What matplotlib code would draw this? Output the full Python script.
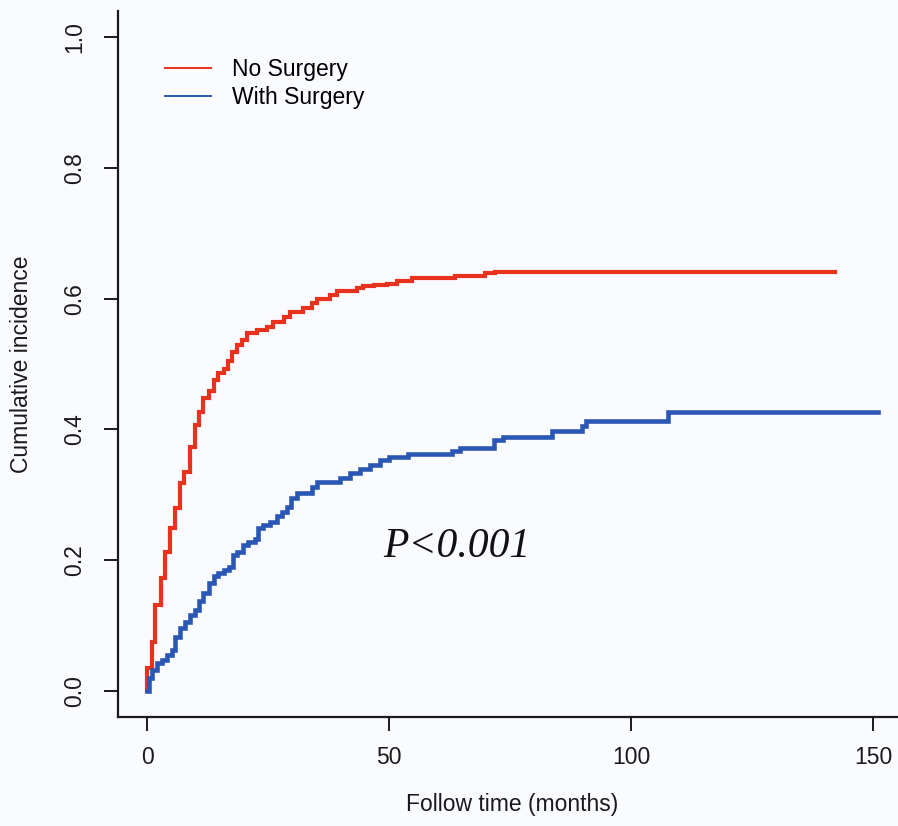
import matplotlib
matplotlib.use("Agg")
import matplotlib.pyplot as plt

# ---- data ----
no_surg_t = [0, 0, 0.97, 1.65, 2.8, 3.7, 4.75, 5.8, 6.8, 7.7, 8.9, 9.9, 10.7, 11.6, 12.7,
             13.7, 14.7, 15.8, 16.6, 17.5, 18.5, 19.6, 20.6, 22.7, 24.7, 26.1, 28.2,
             29.5, 32.3, 34.0, 35.0, 37.8, 39.2, 43.3, 44.7, 46.8, 49.5, 51.6, 54.7,
             63.6, 69.8, 71.9, 142.1]
no_surg_v = [0, 0.035, 0.075, 0.131, 0.172, 0.213, 0.249, 0.28, 0.318, 0.335, 0.373,
             0.407, 0.427, 0.448, 0.458, 0.476, 0.486, 0.493, 0.504, 0.519, 0.529,
             0.537, 0.547, 0.552, 0.557, 0.565, 0.572, 0.58, 0.585, 0.593, 0.6, 0.606,
             0.611, 0.616, 0.619, 0.621, 0.623, 0.627, 0.632, 0.634, 0.6385, 0.641,
             0.641]

with_surg_t = [0, 0.3, 0.97, 2.0, 3.0, 4.1, 5.1, 5.8, 6.8, 7.85, 8.9, 9.9, 10.7, 11.6,
               12.7, 13.7, 14.7, 15.8, 16.8, 17.7, 18.5, 19.8, 20.9, 22.3, 23.0, 24.0,
               25.4, 26.8, 27.8, 28.9, 29.8, 30.9, 34.0, 35.1, 39.9, 41.9, 44.0, 46.1,
               48.1, 49.9, 54.0, 63.0, 64.7, 71.7, 73.6, 83.7, 89.8, 90.6, 107.7, 151.1]
with_surg_v = [0, 0.019, 0.032, 0.042, 0.047, 0.055, 0.063, 0.083, 0.096, 0.106, 0.116,
               0.124, 0.137, 0.149, 0.165, 0.175, 0.18, 0.185, 0.19, 0.208, 0.213,
               0.223, 0.228, 0.233, 0.249, 0.254, 0.259, 0.267, 0.274, 0.282, 0.295,
               0.302, 0.312, 0.32, 0.325, 0.333, 0.34, 0.346, 0.353, 0.358, 0.362,
               0.367, 0.372, 0.383, 0.389, 0.397, 0.405, 0.413, 0.427, 0.427]

x_ticks = [0, 50, 100, 150]
y_ticks = [0.0, 0.2, 0.4, 0.6, 0.8, 1.0]
y_tick_labels = ["0.0", "0.2", "0.4", "0.6", "0.8", "1.0"]
series_labels = ["No Surgery", "With Surgery"]

RED = "#E8321E"
BLUE = "#2A56B4"
BG = "#FAFBFE"

plt.rcParams['font.family'] = ['Liberation Sans', 'DejaVu Sans']

W, H = 898, 826
fig = plt.figure(figsize=(W / 100, H / 100), dpi=100, facecolor=BG)

xlim = (-6.04, 157.04)
ylim = (-0.04, 1.04)
left_px, right_px, top_px, bottom_px = 118, 907, 11, 717
ax = fig.add_axes([left_px / W, 1 - bottom_px / H,
                   (right_px - left_px) / W, (bottom_px - top_px) / H])
ax.set_facecolor(BG)
ax.set_xlim(*xlim)
ax.set_ylim(*ylim)

ax.step(no_surg_t, no_surg_v, where='post', color=RED, lw=3.0, solid_joinstyle='miter')
ax.step(with_surg_t, with_surg_v, where='post', color=BLUE, lw=3.3, solid_joinstyle='miter')

for s in ['top', 'right']:
    ax.spines[s].set_visible(False)
for s in ['left', 'bottom']:
    ax.spines[s].set_linewidth(1.6)
    ax.spines[s].set_color('#1a1a1a')

ax.set_xticks(x_ticks)
ax.set_xticklabels([str(v) for v in x_ticks])
ax.set_yticks(y_ticks)
ax.set_yticklabels(y_tick_labels, rotation=90, va='center')
ax.tick_params(axis='both', direction='out', length=10, width=1.4, color='#1a1a1a',
               labelsize=16.5, labelcolor='#1a1a1a')
ax.tick_params(axis='x', pad=11)
ax.tick_params(axis='y', pad=13)

# axis labels placed in figure pixel space
fig.text(22 / W, 1 - 364 / H, "Cumulative incidence", rotation=90, ha='center',
         va='center', fontsize=16.5, color='#1a1a1a')
fig.text(512 / W, 1 - 805 / H, "Follow time (months)", ha='center', va='center',
         fontsize=16.5, color='#1a1a1a')

# legend (R style, no frame)
leg = ax.legend([plt.Line2D([], [], color=RED, lw=1.4),
                 plt.Line2D([], [], color=BLUE, lw=1.4)],
                series_labels, loc='upper left', frameon=False, fontsize=16.5,
                bbox_to_anchor=(38 / (right_px - left_px), 1 - 38 / (bottom_px - top_px)),
                handlelength=2.0, handletextpad=0.9, labelspacing=0.2,
                borderaxespad=0)

ax.text(64, 0.22, "P<0.001", fontsize=30, style='italic',
        family=['Liberation Serif', 'DejaVu Serif'], ha='center', va='center',
        color='#111111')

fig.savefig("out.png", dpi=100, facecolor=BG)
